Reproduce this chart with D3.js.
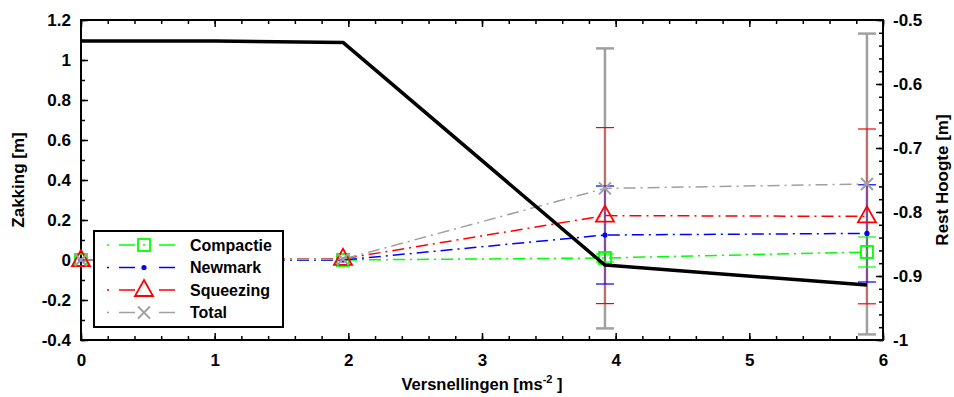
<!DOCTYPE html>
<html>
<head>
<meta charset="utf-8">
<script src="https://cdn.jsdelivr.net/npm/d3@7"></script>
<style>
  body { margin: 0; background: #fff; }
  svg text { font-family: "Liberation Sans", Arial, sans-serif; font-weight: bold; fill: #000; }
</style>
</head>
<body>
<div id="chart"></div>
<script>
// accelerations (x) for the settlement series
const accel = [0, 1.96, 3.92, 5.88];
const compactie = [0, 0, 0.01, 0.04];
const compactieErr = [0, 0, 0.02, 0.075];
const newmark = [0, 0, 0.125, 0.133];
const newmarkErr = [0, 0, 0.245, 0.243];
const squeezing = [0, 0.006, 0.222, 0.218];
const squeezingErr = [0, 0, 0.44, 0.437];
const total = [0, 0.004, 0.358, 0.38];
const totalErr = [0, 0, 0.70, 0.752];

// remaining height (right axis)
const restAccel = [0, 1, 1.96, 3.92, 5.88];
const restHoogte = [-0.533, -0.533, -0.535, -0.883, -0.914];

const xTicks = [0, 1, 2, 3, 4, 5, 6];
const yLeftTicks = [-0.4, -0.2, 0, 0.2, 0.4, 0.6, 0.8, 1, 1.2];
const yRightTicks = [-1, -0.9, -0.8, -0.7, -0.6, -0.5];

const series = [
  { name: "Compactie", values: compactie, err: compactieErr, color: "#00ff00", marker: "square" },
  { name: "Newmark", values: newmark, err: newmarkErr, color: "#0000ff", marker: "dot" },
  { name: "Squeezing", values: squeezing, err: squeezingErr, color: "#ff0000", marker: "triangle" },
  { name: "Total", values: total, err: totalErr, color: "#a0a0a0", marker: "cross" }
];

const W = 954, H = 397;
const margin = { top: 20, right: 71, bottom: 57, left: 81 };
const width = W - margin.left - margin.right;
const height = H - margin.top - margin.bottom;

const svg = d3.select("#chart").append("svg").attr("width", W).attr("height", H);
const chart = svg.append("g").attr("transform", `translate(${margin.left},${margin.top})`);

const x = d3.scaleLinear().domain([0, 6]).range([0, width]);
const yL = d3.scaleLinear().domain([-0.4, 1.2]).range([height, 0]);
const yR = d3.scaleLinear().domain([-1, -0.5]).range([height, 0]);

const fmt = d => String(+d.toFixed(2));

// minor ticks first (inward)
function minor(axisFn, scale, vals, len) {
  return axisFn(scale).tickValues(vals).tickSize(len).tickFormat("");
}
const xMinor = d3.range(0, 6.01, 0.2).map(v => +v.toFixed(2));
const yLMinor = d3.range(-0.4, 1.21, 0.1).map(v => +v.toFixed(2));
const yRMinor = d3.range(-1, -0.499, 0.02).map(v => +v.toFixed(2));

chart.append("g").attr("transform", `translate(0,${height})`).call(minor(d3.axisTop, x, xMinor, 4));
chart.append("g").call(minor(d3.axisBottom, x, xMinor, 4));
chart.append("g").call(minor(d3.axisRight, yL, yLMinor, 4));
chart.append("g").attr("transform", `translate(${width},0)`).call(minor(d3.axisLeft, yR, yRMinor, 4));

// major ticks with labels
chart.append("g").attr("class", "ax").attr("transform", `translate(0,${height})`)
  .call(d3.axisBottom(x).tickValues(xTicks).tickSize(-7).tickPadding(14).tickFormat(fmt));
chart.append("g").call(d3.axisBottom(x).tickValues(xTicks).tickSize(7).tickFormat(""));
chart.append("g").attr("class", "ax")
  .call(d3.axisLeft(yL).tickValues(yLeftTicks).tickSize(-7).tickPadding(10).tickFormat(fmt));
chart.append("g").attr("class", "ax").attr("transform", `translate(${width},0)`)
  .call(d3.axisRight(yR).tickValues(yRightTicks).tickSize(-7).tickPadding(10).tickFormat(fmt));

chart.selectAll(".domain").remove();
chart.selectAll(".tick line").attr("stroke", "#000").attr("stroke-width", 1.5);
chart.selectAll(".ax text").style("font-size", "17px");

// frame
chart.append("rect").attr("width", width).attr("height", height)
  .attr("fill", "none").attr("stroke", "#000").attr("stroke-width", 2);

// error bars (total first so colours sit on top)
const capW = 9;
[...series].reverse().forEach(s => {
  const g = chart.append("g");
  accel.forEach((a, i) => {
    if (!s.err[i]) return;
    const cx = x(a), lo = yL(s.values[i] - s.err[i]), hi = yL(s.values[i] + s.err[i]);
    const w = s.name === "Total" ? 2.5 : 1.2;
    g.append("line").attr("x1", cx).attr("x2", cx).attr("y1", lo).attr("y2", hi)
      .attr("stroke", s.color).attr("stroke-width", w).attr("opacity", s.name === "Total" ? 1 : 0.5);
    [lo, hi].forEach(yy => g.append("line").attr("x1", cx - capW).attr("x2", cx + capW)
      .attr("y1", yy).attr("y2", yy).attr("stroke", s.color).attr("stroke-width", w));
  });
});

// series lines
const dash = "12,5,2,5";
series.forEach(s => {
  const line = d3.line().x((d, i) => x(accel[i])).y(d => yL(d));
  chart.append("path").datum(s.values).attr("d", line)
    .attr("fill", "none").attr("stroke", s.color).attr("stroke-width", 1.5)
    .attr("stroke-dasharray", dash);
});

function drawMarker(g, type, cx, cy, color) {
  if (type === "square") {
    g.append("rect").attr("x", cx - 6).attr("y", cy - 6).attr("width", 12).attr("height", 12)
      .attr("fill", "none").attr("stroke", color).attr("stroke-width", 1.8);
  } else if (type === "dot") {
    g.append("circle").attr("cx", cx).attr("cy", cy).attr("r", 2.6).attr("fill", color);
  } else if (type === "triangle") {
    g.append("path").attr("d", `M${cx},${cy - 10}L${cx + 9},${cy + 6}L${cx - 9},${cy + 6}Z`)
      .attr("fill", "none").attr("stroke", color).attr("stroke-width", 1.8);
  } else if (type === "cross") {
    g.append("path").attr("d", `M${cx - 6},${cy - 6}L${cx + 6},${cy + 6}M${cx - 6},${cy + 6}L${cx + 6},${cy - 6}`)
      .attr("fill", "none").attr("stroke", color).attr("stroke-width", 2);
  }
}

series.forEach(s => {
  const g = chart.append("g");
  s.values.forEach((v, i) => drawMarker(g, s.marker, x(accel[i]), yL(v), s.color));
});

// remaining height line on right axis
chart.append("path").datum(restHoogte)
  .attr("d", d3.line().x((d, i) => x(restAccel[i])).y(d => yR(d)))
  .attr("fill", "none").attr("stroke", "#000").attr("stroke-width", 3.5).attr("stroke-linejoin", "round");

// legend
const leg = svg.append("g").attr("transform", "translate(94,231)");
leg.append("rect").attr("width", 189).attr("height", 96).attr("fill", "#fff")
  .attr("stroke", "#000").attr("stroke-width", 2);
series.forEach((s, i) => {
  const ly = 14 + i * 22.5;
  const row = leg.append("g");
  row.append("line").attr("x1", 13).attr("x2", 87).attr("y1", ly).attr("y2", ly)
    .attr("stroke", s.color).attr("stroke-width", 1.5).attr("stroke-dasharray", "2,10,16,24,16,10,2");
  drawMarker(row, s.marker, 50, ly, s.color);
  if (s.marker === "square") row.append("circle").attr("cx", 50).attr("cy", ly).attr("r", 1).attr("fill", s.color);
  row.append("text").attr("x", 96).attr("y", ly + 5.5).style("font-size", "16px").text(s.name);
});

// axis titles
svg.append("text").attr("text-anchor", "middle").style("font-size", "17px")
  .attr("transform", `translate(24,${margin.top + height / 2}) rotate(-90)`).text("Zakking [m]");
svg.append("text").attr("text-anchor", "middle").style("font-size", "17px")
  .attr("transform", `translate(948,${margin.top + height / 2}) rotate(-90)`).text("Rest Hoogte [m]");
const xt = svg.append("text").attr("text-anchor", "middle").style("font-size", "16.5px")
  .attr("x", margin.left + width / 2).attr("y", 390);
xt.append("tspan").text("Versnellingen [ms");
xt.append("tspan").attr("dy", -7).style("font-size", "11px").text("-2");
xt.append("tspan").attr("dy", 7).text(" ]");
</script>
</body>
</html>
